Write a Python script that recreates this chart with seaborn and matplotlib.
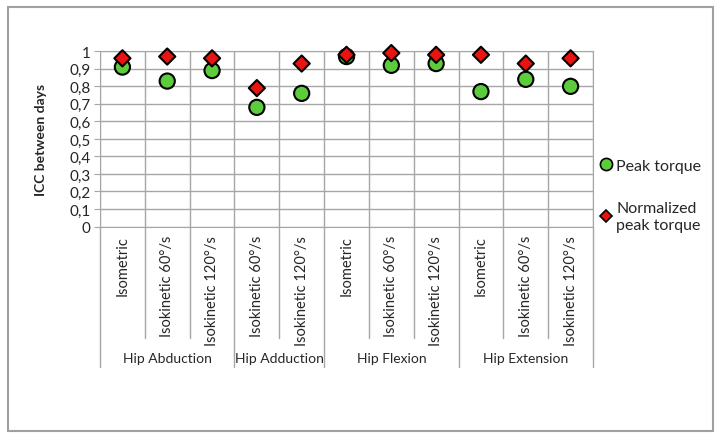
import numpy as np
import pandas as pd
import matplotlib
matplotlib.use("Agg")
import matplotlib.pyplot as plt
from matplotlib.patches import Rectangle
from matplotlib.ticker import FuncFormatter
import matplotlib.transforms as mtransforms
import seaborn as sns

groups = ["Hip Abduction", "Hip Adduction", "Hip Flexion", "Hip Extension"]
group_tests = [
    ["Isometric", "Isokinetic 60°/s", "Isokinetic 120°/s"],
    ["Isokinetic 60°/s", "Isokinetic 120°/s"],
    ["Isometric", "Isokinetic 60°/s", "Isokinetic 120°/s"],
    ["Isometric", "Isokinetic 60°/s", "Isokinetic 120°/s"],
]
peak_torque = [0.91, 0.83, 0.89, 0.68, 0.76, 0.97, 0.92, 0.93, 0.77, 0.84, 0.80]
normalized_torque = [0.96, 0.97, 0.96, 0.79, 0.93, 0.98, 0.99, 0.98, 0.98, 0.93, 0.96]
yticks = [0, 0.1, 0.2, 0.3, 0.4, 0.5, 0.6, 0.7, 0.8, 0.9, 1]

# flatten categories
test_labels = [t for tests in group_tests for t in tests]
pos = np.arange(len(test_labels))

df = pd.concat([
    pd.DataFrame({"pos": pos, "value": peak_torque, "measure": "Peak torque"}),
    pd.DataFrame({"pos": pos, "value": normalized_torque, "measure": "Normalized\npeak torque"}),
])

sns.set_style("white")
plt.rcParams["font.family"] = ["Lato", "DejaVu Sans"]

fig = plt.figure(figsize=(7.21, 4.39), dpi=100)
ax = fig.add_axes([100 / 721, 1 - 227.5 / 439, 493 / 721, 175.2 / 439])

grid_c = "#a6a6a6"
sns.scatterplot(data=df, x="pos", y="value", hue="measure", style="measure",
                palette={"Peak torque": "#5ccb3c", "Normalized\npeak torque": "#e8140f"},
                markers={"Peak torque": "o", "Normalized\npeak torque": "D"},
                size="measure", sizes={"Peak torque": 120, "Normalized\npeak torque": 68},
                edgecolor="black", linewidth=1.5, ax=ax, zorder=5, clip_on=False)

ax.set_xlim(-0.5, len(pos) - 0.5)
ax.set_ylim(0, 1)
ax.set_yticks(yticks)
ax.yaxis.set_major_formatter(FuncFormatter(lambda v, _: ("%g" % round(v, 1)).replace(".", ",")))
ax.set_xticks(pos)
ax.set_xticklabels(test_labels, rotation=90, fontsize=10.5)
ax.tick_params(axis="x", length=0, pad=6)
ax.tick_params(axis="y", length=4, color=grid_c, labelsize=11, pad=3, direction="out", left=True)
ax.set_xlabel("")
ax.set_ylabel("ICC between days", fontsize=10, fontweight="bold", labelpad=16)

for v in yticks:
    ax.axhline(v, color=grid_c, lw=1, zorder=1)
for b in np.arange(-0.5, len(pos), 1):
    ax.axvline(b, color=grid_c, lw=1, zorder=1)
for s in ax.spines.values():
    s.set_color(grid_c)

# multi-level category axis
trans = mtransforms.blended_transform_factory(ax.transData, ax.transAxes)
start = 0
edges = [-0.5]
for g, tests in zip(groups, group_tests):
    end = start + len(tests)
    edges.append(end - 0.5)
    ax.text((start + end - 1) / 2, -0.75, g, transform=trans, ha="center", va="center", fontsize=10)
    for k in range(start, end - 1):
        ax.plot([k + 0.5, k + 0.5], [0, -0.636], transform=trans, color=grid_c, lw=1, clip_on=False)
    start = end
for e in edges:
    ax.plot([e, e], [0, -0.802], transform=trans, color=grid_c, lw=1, clip_on=False)

handles, labels = ax.get_legend_handles_labels()
ax.legend_.remove()
for h in handles:
    h.set_markeredgecolor("black")
    h.set_markeredgewidth(1.2)
fig.legend(handles, labels, loc="upper left", bbox_to_anchor=(582 / 721, 1 - 145 / 439),
           frameon=False, fontsize=11.5, labelspacing=1.8, handletextpad=0.05,
           handlelength=1.2, markerscale=0.8)

fig.add_artist(Rectangle((7.5 / 721, 7.5 / 439), 705.5 / 721, 424 / 439, transform=fig.transFigure,
                         fill=False, edgecolor="#a0a0a0", lw=1.5))

fig.savefig("out.png", dpi=100)
